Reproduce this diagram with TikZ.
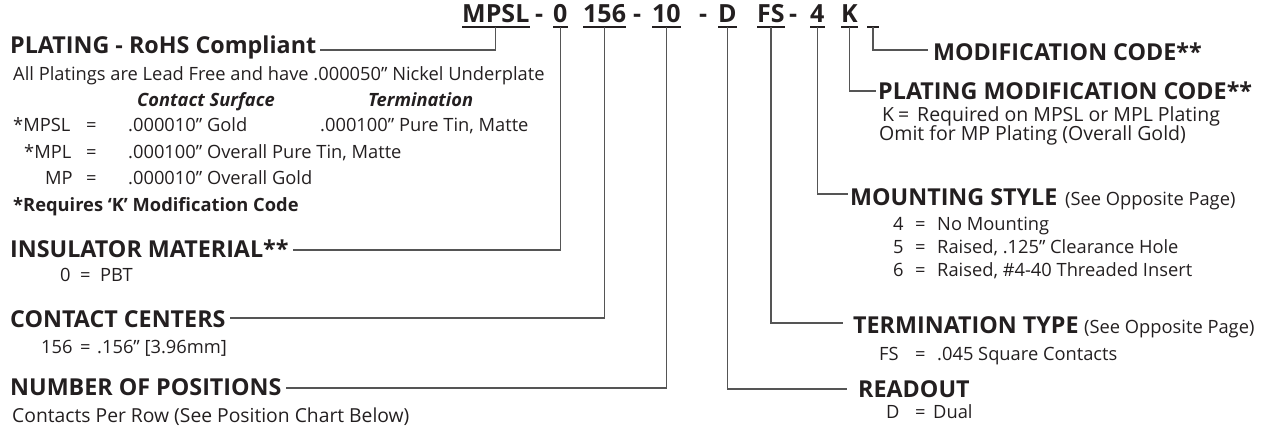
\documentclass[tikz,border=0pt]{standalone}
\usepackage{fontspec}
\setmainfont{Open Sans}
\usetikzlibrary{calc}
\definecolor{ink}{HTML}{231F20}
\definecolor{wirec}{HTML}{555555}
\begin{document}
\begin{tikzpicture}[x=1pt,y=-1pt,
  every node/.style={anchor=base west, inner sep=0pt, text=ink},
  head/.style={font=\fontsize{23.3}{23.3}\selectfont\bfseries},
  note/.style={font=\fontsize{18.3}{18.3}\selectfont},
  bignote/.style={font=\fontsize{19.5}{19.5}\selectfont},
  aside/.style={font=\fontsize{18.3}{18.3}\selectfont},
  subhead/.style={font=\fontsize{18.3}{18.3}\selectfont\bfseries\itshape},
  boldnote/.style={font=\fontsize{18.3}{18.3}\selectfont\bfseries},
  codepart/.style={font=\fontsize{25}{25}\selectfont\bfseries},
  uline/.style={draw=ink, line width=1.3pt},
  wire/.style={draw=wirec, line width=1.2pt}]
\useasboundingbox (0,0) rectangle (1266,431);
% ---------- part number ----------
\node[codepart] (cMPSL) at (462,23) {MPSL};
\node[codepart] (d1) at (535,23) {-};
\node[codepart] (c0) at (553,23) {0};
\node[codepart] (c156) at (583,23) {156};
\node[codepart] (d2) at (633,23) {-};
\node[codepart] (c10) at (652,23) {10};
\node[codepart] (d3) at (699,23) {-};
\node[codepart] (cD) at (718,23) {D};
\node[codepart] (cFS) at (757,23) {FS};
\node[codepart] (d4) at (789,23) {-};
\node[codepart] (c4) at (810,23) {4};
\node[codepart] (cK) at (841,23) {K};
\coordinate (bl) at (867,27);
\coordinate (br) at (879,27);
\coordinate (bm) at (873,27);
\foreach \n in {cMPSL,c0,c156,c10,cD,cFS,c4,cK}
  \draw[uline] ([yshift=-4pt]\n.base west) -- ([yshift=-4pt]\n.base east);
\draw[uline] (bl) -- (br);
% ---------- left column ----------
\node[head] (hPlat) at (10,53) {PLATING - RoHS Compliant};
\node[note] (pl1) at (13,80) {All Platings are Lead Free and have .000050” Nickel Underplate};
\node[subhead] (csurf) at (137,106) {Contact Surface};
\node[subhead] (cterm) at (368,106) {Termination};
\node[note] (r1a) at (13,131) {*MPSL};
\node[note] (r1b) at (86,131) {=};
\node[note] (r1c) at (128,131) {.000010” Gold};
\node[note] (r1d) at (320,131) {.000100” Pure Tin, Matte};
\node[note] (r2a) at (24,158) {*MPL};
\node[note] (r2b) at (86,158) {=};
\node[note] (r2c) at (128,158) {.000100” Overall Pure Tin, Matte};
\node[note] (r3a) at (45,184) {MP};
\node[note] (r3b) at (86,184) {=};
\node[note] (r3c) at (128,184) {.000010” Overall Gold};
\node[boldnote] (req) at (13,211) {*Requires ‘K’ Modification Code};
\node[head] (hIns) at (10,257) {INSULATOR MATERIAL**};
\node[note] (i1a) at (60,281) {0};
\node[note] (i1b) at (80,281) {=};
\node[note] (i1c) at (100,281) {PBT};
\node[head] (hCC) at (10,327) {CONTACT CENTERS};
\node[note] (k1a) at (41,353) {156};
\node[note] (k1b) at (80,353) {=};
\node[note] (k1c) at (97,353) {.156” [3.96mm]};
\node[head] (hNP) at (10,395) {NUMBER OF POSITIONS};
\node[note,font=\fontsize{19.3}{19.3}\selectfont] (n1) at (12,422) {Contacts Per Row (See Position Chart Below)};
% ---------- right column ----------
\node[head] (hMod) at (933,60) {MODIFICATION CODE**};
\node[head] (hPMod) at (878,99) {PLATING MODIFICATION CODE**};
\node[bignote] (p1a) at (882,121) {K};
\node[bignote] (p1b) at (898,121) {=};
\node[bignote] (p1c) at (917,121) {Required on MPSL or MPL Plating};
\node[bignote] (p2) at (879,140) {Omit for MP Plating (Overall Gold)};
\node[head] (hMnt) at (850,205) {MOUNTING STYLE};
\node[aside] (hMntx) at (1065,205) {(See Opposite Page)};
\node[note] (m1a) at (893,230) {4};
\node[note] (m1b) at (915,230) {=};
\node[note] (m1c) at (937,230) {No Mounting};
\node[note] (m2a) at (893,253) {5};
\node[note] (m2b) at (915,253) {=};
\node[note] (m2c) at (937,253) {Raised, .125” Clearance Hole};
\node[note] (m3a) at (893,276) {6};
\node[note] (m3b) at (915,276) {=};
\node[note] (m3c) at (937,276) {Raised, \#4-40 Threaded Insert};
\node[head] (hTT) at (853,333) {TERMINATION TYPE};
\node[aside] (hTTx) at (1084,333) {(See Opposite Page)};
\node[note] (t1a) at (879,360) {FS};
\node[note] (t1b) at (915,360) {=};
\node[note] (t1c) at (937,360) {.045 Square Contacts};
\node[head] (hRO) at (858,397) {READOUT};
\node[note] (o1a) at (886,418) {D};
\node[note] (o1b) at (915,418) {=};
\node[note] (o1c) at (933,418) {Dual};
% ---------- connectors ----------
\draw[wire] ([yshift=-4pt]cMPSL.base) |- ($(hPlat.base east)+(4,-3)$);
\draw[wire] ([yshift=-4pt]c0.base) |- ($(hIns.base east)+(4,-7)$);
\draw[wire] ([yshift=-4pt]c156.base) |- ($(hCC.base east)+(4,-9)$);
\draw[wire] ([yshift=-4pt]c10.base) |- ($(hNP.base east)+(4,-7)$);
\draw[wire] ([yshift=-4pt]cD.base) |- ($(hRO.base west)+(-11,-8)$);
\draw[wire] ([yshift=-4pt]cFS.base) |- ($(hTT.base west)+(-10,-10)$);
\draw[wire] ([yshift=-4pt]c4.base) |- ($(hMnt.base west)+(-2,-11)$);
\draw[wire] ([yshift=-4pt]cK.base) |- ($(hPMod.base west)+(-2,-8)$);
\draw[wire] (bm) |- ($(hMod.base west)+(-5,-10)$);
\end{tikzpicture}
\end{document}
